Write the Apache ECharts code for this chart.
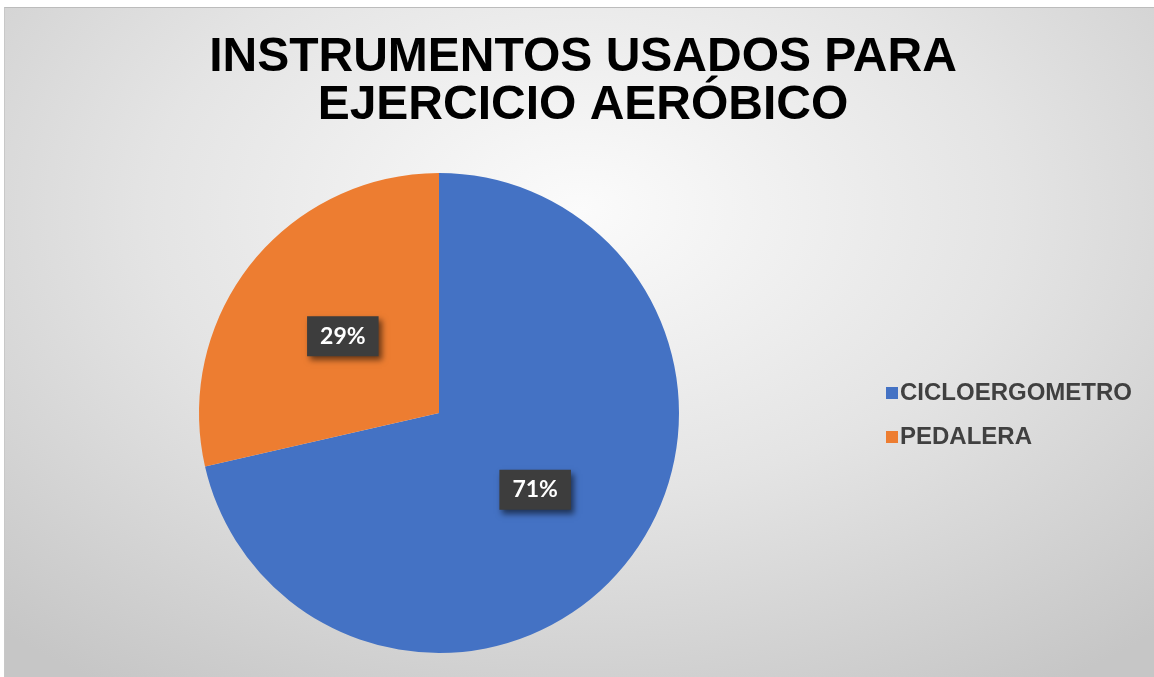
<!DOCTYPE html>
<html>
<head>
<meta charset="utf-8">
<script src="https://cdn.jsdelivr.net/npm/echarts@6/dist/echarts.min.js"></script>
<style>
  html, body { margin: 0; padding: 0; background: #ffffff; }
  #chart {
    position: absolute;
    left: 4px;
    top: 7px;
    width: 1150px;
    height: 670px;
    border-top: 1px solid #bcbcbc;
    border-left: 1px solid #c8c8c8;
    background: radial-gradient(ellipse 75% 85% at 50% 30%, #fbfbfb 0%, #e4e4e4 50%, #c6c6c6 100%);
  }
</style>
</head>
<body>
<div id="chart"></div>
<script>
const titleLines = ['INSTRUMENTOS USADOS PARA', 'EJERCICIO AERÓBICO'];
const categories = ['CICLOERGOMETRO', 'PEDALERA'];
const counts = [5, 2];
const colors = ['#4472C4', '#ED7D31'];

const chart = echarts.init(document.getElementById('chart'), null, { renderer: 'canvas' });

chart.setOption({
  backgroundColor: 'transparent',
  animation: false,
  title: {
    text: titleLines.join('\n'),
    left: 573,
    top: 21,
    textAlign: 'center',
    textStyle: {
      fontFamily: '"Liberation Sans", Arial, sans-serif',
      fontWeight: 'bold',
      fontSize: 48,
      lineHeight: 48,
      color: '#000000'
    }
  },
  legend: {
    orient: 'vertical',
    left: 876,
    top: 368,
    itemWidth: 12,
    itemHeight: 12,
    itemGap: 20,
    icon: 'rect',
    textStyle: {
      fontFamily: '"Liberation Sans", Arial, sans-serif',
      fontWeight: 'bold',
      fontSize: 24,
      color: '#404040',
      padding: [0, 0, 0, -3]
    },
    data: categories
  },
  series: [{
    type: 'pie',
    center: [434, 405],
    radius: 240,
    startAngle: 90,
    clockwise: true,
    label: {
      show: true,
      position: 'inside',
      formatter: p => Math.round(p.percent) + '%',
      fontFamily: 'Lato, "Open Sans", sans-serif',
      fontWeight: 'bold',
      fontSize: 23,
      color: '#ffffff',
      backgroundColor: '#3d3d3d',
      padding: [9, 13, 8, 13],
      shadowColor: 'rgba(0,0,0,0.55)',
      shadowBlur: 6,
      shadowOffsetX: 3,
      shadowOffsetY: 4
    },
    labelLine: { show: false },
    emphasis: { disabled: true },
    data: categories.map((name, i) => ({
      name: name,
      value: counts[i],
      itemStyle: { color: colors[i] }
    }))
  }]
});
</script>
</body>
</html>
